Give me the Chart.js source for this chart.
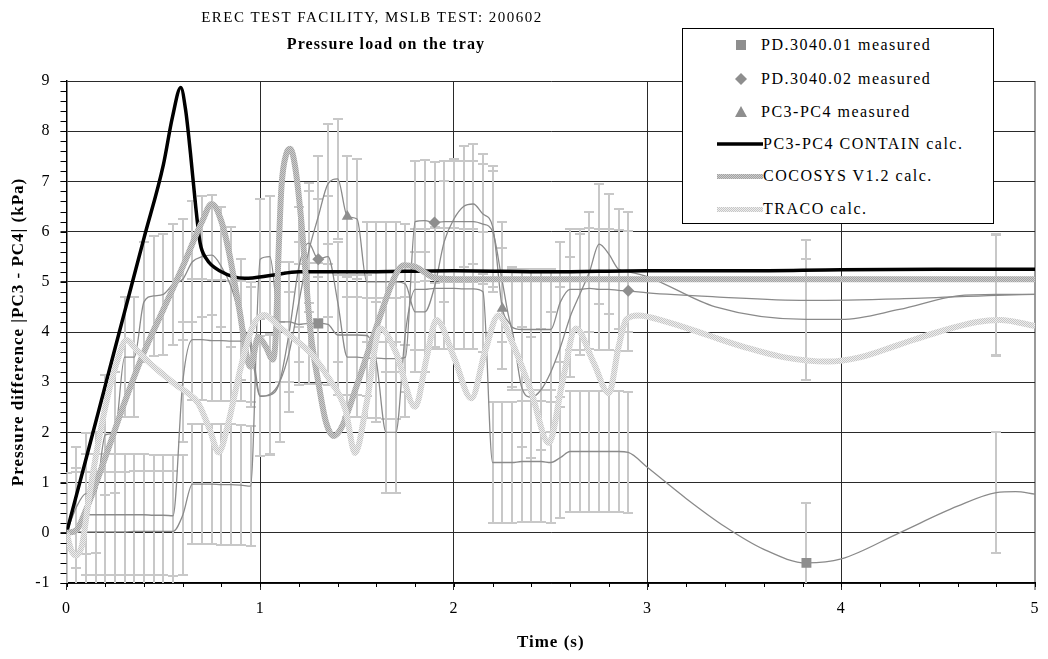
<!DOCTYPE html>
<html>
<head>
<meta charset="utf-8">
<script src="https://cdn.jsdelivr.net/npm/chart.js@4.4.1/dist/chart.umd.min.js"></script>
<style>
body { margin: 0; background: #fff; font-family: "Liberation Serif", "Times New Roman", serif; color: #000; }
#wrap { position: relative; width: 1048px; height: 659px; overflow: hidden; }
#c { position: absolute; left: 0; top: 0; }
.ttl { position: absolute; width: 500px; text-align: center; font-size: 15px; line-height: 18px; white-space: nowrap; }
#t1 { left: 122px; top: 8px; letter-spacing: 1.5px; }
#t2 { left: 136px; top: 35px; font-size: 16px; font-weight: bold; letter-spacing: 1.1px; }
#legend { position: absolute; left: 682px; top: 28px; width: 310px; height: 194px; border: 1px solid #000; background: #fff; }
.row { position: absolute; left: 0; height: 20px; width: 310px; }
.row svg { position: absolute; top: 0; }
.row span { position: absolute; top: 0; line-height: 20px; font-size: 16px; letter-spacing: 1.5px; white-space: nowrap; }
</style>
</head>
<body>
<div id="wrap">
  <canvas id="c" width="1048" height="659"></canvas>
  <div class="ttl" id="t1">EREC TEST FACILITY, MSLB TEST: 200602</div>
  <div class="ttl" id="t2">Pressure load on the tray</div>
  <div id="legend">
    <div class="row" style="top:6px"><svg width="70" height="20" style="left:20px"><rect x="33" y="5" width="10" height="10" fill="#8e8e8e"/></svg><span style="left:78px">PD.3040.01 measured</span></div>
    <div class="row" style="top:40px"><svg width="70" height="20" style="left:20px"><polygon points="38,4 44,10 38,16 32,10" fill="#8e8e8e"/></svg><span style="left:78px">PD.3040.02 measured</span></div>
    <div class="row" style="top:73px"><svg width="70" height="20" style="left:20px"><polygon points="38,4 44,15 32,15" fill="#8e8e8e"/></svg><span style="left:78px">PC3-PC4 measured</span></div>
    <div class="row" style="top:105px"><svg width="50" height="20" style="left:34px"><line x1="0" y1="10" x2="46" y2="10" stroke="#000" stroke-width="3.5"/></svg><span style="left:80px">PC3-PC4 CONTAIN calc.</span></div>
    <div class="row" style="top:137px"><svg width="50" height="20" style="left:34px"><defs><pattern id="pc" width="2" height="2" patternUnits="userSpaceOnUse"><rect width="2" height="2" fill="#cdcdcd"/><rect width="1" height="1" fill="#a2a2a2"/><rect x="1" y="1" width="1" height="1" fill="#a2a2a2"/></pattern></defs><rect x="0" y="8" width="46" height="5" fill="url(#pc)"/></svg><span style="left:80px">COCOSYS V1.2 calc.</span></div>
    <div class="row" style="top:170px"><svg width="50" height="20" style="left:34px"><defs><pattern id="pt" width="2" height="2" patternUnits="userSpaceOnUse"><rect width="2" height="2" fill="#eeeeee"/><rect width="1" height="1" fill="#c6c6c6"/><rect x="1" y="1" width="1" height="1" fill="#c6c6c6"/></pattern></defs><rect x="0" y="8" width="46" height="5" fill="url(#pt)"/></svg><span style="left:80px">TRACO calc.</span></div>
  </div>
</div>
<script>
// 測定データの時刻（約0.05秒刻み, 0〜2.9 s）
const tGrid = [0,0.05,0.1,0.15,0.2,0.25,0.3,0.35,0.4,0.45,0.5,0.55,0.6,0.65,0.7,0.75,0.8,0.85,0.9,0.95,
  1,1.05,1.1,1.15,1.2,1.25,1.3,1.35,1.4,1.45,1.5,1.55,1.6,1.65,1.7,1.75,1.8,1.85,1.9,1.95,
  2,2.05,2.1,2.15,2.2,2.25,2.3,2.35,2.4,2.45,2.5,2.55,2.6,2.65,2.7,2.75,2.8,2.85,2.9];

// PD.3040.01 measured
const pd01Vals = [0,0.02,0.02,0.02,0.02,0.02,0.02,0.03,0.03,0.03,0.03,0.03,0.35,0.97,0.97,0.97,0.96,0.96,0.95,0.93,
  5.45,5.5,4.2,4.2,4.15,4.17,4.17,4.15,3.94,3.94,3.94,3.93,3.4,2.0,2.0,4.0,4.85,4.85,4.87,4.87,
  4.87,4.86,4.86,4.8,1.4,1.4,1.4,1.42,1.42,1.42,1.4,1.5,1.62,1.62,1.62,1.62,1.62,1.62,1.6];
const pd01TailT = [3.0,3.2,3.4,3.6,3.82,4.0,4.3,4.6,4.8,4.9,5.0];
const pd01TailV = [1.3,0.68,0.12,-0.33,-0.6,-0.52,0.0,0.53,0.8,0.82,0.77];
const pd01Marks = [1.3,3.82];

// PD.3040.02 measured
const pd02Vals = [0,0.1,0.36,0.36,0.36,0.36,0.36,0.36,0.36,0.35,0.35,0.34,3.0,3.85,3.85,3.83,3.83,3.82,3.82,3.8,
  2.72,2.74,3.0,4.0,5.3,5.77,5.45,5.5,4.6,3.5,3.5,3.48,3.48,3.47,3.47,3.5,6.2,6.22,6.18,6.2,
  6.2,6.2,6.2,6.15,6.0,5.0,4.1,4.05,4.05,4.05,4.05,4.6,4.85,4.85,4.87,4.85,4.85,4.83,4.82];
const pd02TailT = [3.0,3.35,3.82,4.3,4.8,5.0];
const pd02TailV = [4.78,4.7,4.63,4.66,4.73,4.75];
const pd02Marks = [1.3,1.9,2.9];

// PC3-PC4 measured
const pc34Vals = [0,0.5,0.78,0.8,1.95,2.0,3.5,3.5,4.6,4.72,4.75,4.95,5.05,5.4,5.5,5.53,5.3,4.9,4.25,3.7,
  2.72,2.76,3.0,3.6,4.6,5.6,6.3,6.95,7.05,6.3,6.25,5.0,5.0,5.0,5.0,4.95,4.4,4.4,4.9,5.8,
  6.25,6.5,6.55,6.35,6.1,4.47,4.05,2.9,2.7,2.85,3.2,3.7,4.3,4.75,5.2,5.75,5.55,5.25,5.2];
const pc34TailT = [3.0,3.35,3.82,4.0,4.3,4.6,4.8,5.0];
const pc34TailV = [5.1,4.5,4.25,4.25,4.45,4.72,4.75,4.75];
const pc34Marks = [1.45,2.25];

// 計算値
const containT = [0,0.1,0.2,0.3,0.4,0.5,0.547,0.59,0.615,0.64,0.667,0.69,0.72,0.8,0.92,1.06,1.2,1.5,2.0,2.5,3.0,3.5,4.0,4.5,5.0];
const containV = [0,1.46,2.93,4.4,5.87,7.33,8.28,8.87,8.42,7.56,6.5,5.77,5.47,5.2,5.07,5.13,5.2,5.2,5.22,5.2,5.22,5.22,5.24,5.25,5.25];

const cocosysT = [0,0.05,0.1,0.2,0.3,0.4,0.5,0.6,0.7,0.75,0.8,0.84,0.89,0.95,0.99,1.03,1.065,1.08,1.094,1.11,
  1.135,1.155,1.18,1.21,1.26,1.3,1.34,1.38,1.42,1.5,1.6,1.7,1.74,1.8,1.9,2.0,2.5,3.0,3.5,4.0,4.5,5.0];
const cocosysV = [0,0.05,0.45,1.5,2.6,3.6,4.45,5.3,6.2,6.55,6.2,5.57,4.5,3.31,3.9,3.7,3.45,3.9,5.5,6.9,
  7.55,7.65,7.3,6.3,4.0,3.0,2.2,1.93,2.1,2.95,4.1,5.15,5.33,5.3,5.08,5.05,5.05,5.05,5.05,5.05,5.05,5.05];

const tracoT = [0,0.025,0.05,0.08,0.12,0.2,0.26,0.31,0.36,0.43,0.5,0.55,0.62,0.68,0.74,0.786,0.83,0.9,0.96,1.02,
  1.1,1.18,1.26,1.35,1.44,1.49,1.55,1.62,1.7,1.8,1.86,1.91,2.0,2.09,2.16,2.23,2.3,2.4,2.49,2.56,
  2.63,2.72,2.8,2.85,2.89,2.95,3.1,3.3,3.5,3.7,3.93,4.1,4.3,4.5,4.7,4.82,5.0];
const tracoV = [0,-0.35,-0.45,-0.25,0.8,2.5,3.4,3.84,3.65,3.38,3.15,2.99,2.8,2.58,2.05,1.6,2.1,3.3,4.1,4.34,
  4.1,3.85,3.58,3.1,2.45,1.59,2.6,4.07,3.6,2.51,3.5,4.24,3.5,2.68,3.6,4.33,3.8,2.8,1.79,3.0,
  4.07,3.4,2.78,3.7,4.25,4.33,4.2,3.95,3.7,3.5,3.41,3.5,3.75,4.0,4.2,4.24,4.12];

// 誤差範囲（±kPa）と、2.9秒以降に誤差棒を付ける時刻
const errHalf = 1.2;
const errLateT = [3.82, 4.8];

const pts = (t, v) => t.map((x, i) => ({ x: x, y: v[i] }));

const canvas = document.getElementById('c');
const ctx = canvas.getContext('2d');

// 網目模様の太線（Excel風のテクスチャ）
function texture(c1, c2) {
  const p = document.createElement('canvas');
  p.width = 2; p.height = 2;
  const g = p.getContext('2d');
  g.fillStyle = c1; g.fillRect(0, 0, 2, 2);
  g.fillStyle = c2; g.fillRect(0, 0, 1, 1); g.fillRect(1, 1, 1, 1);
  return ctx.createPattern(p, 'repeat');
}

function measured(label, vals, tailT, tailV, marks, style, r, order) {
  return {
    label: label,
    data: pts(tGrid.concat(tailT), vals.concat(tailV)),
    showLine: true,
    borderColor: '#8a8a8a',
    borderWidth: 1.3,
    backgroundColor: '#8e8e8e',
    pointBackgroundColor: '#8e8e8e',
    pointBorderColor: '#8e8e8e',
    pointBorderWidth: 0,
    pointStyle: style,
    pointRadius: c => (c.raw && marks.includes(c.raw.x)) ? r : 0,
    pointHoverRadius: 0,
    cubicInterpolationMode: 'monotone',
    order: order,
    isMeasured: true
  };
}

const datasets = [
  measured('PD.3040.01 measured', pd01Vals, pd01TailT, pd01TailV, pd01Marks, 'rect', 7, 6),
  measured('PD.3040.02 measured', pd02Vals, pd02TailT, pd02TailV, pd02Marks, 'rectRot', 6, 5),
  measured('PC3-PC4 measured', pc34Vals, pc34TailT, pc34TailV, pc34Marks, 'triangle', 6.5, 4),
  {
    label: 'PC3-PC4 CONTAIN calc.', data: pts(containT, containV), showLine: true,
    borderColor: '#000', borderWidth: 3.5, pointRadius: 0, cubicInterpolationMode: 'monotone', order: 3
  },
  {
    label: 'COCOSYS V1.2 calc.', data: pts(cocosysT, cocosysV), showLine: true,
    borderColor: texture('#cdcdcd', '#a2a2a2'), borderWidth: 6, pointRadius: 0, cubicInterpolationMode: 'monotone', order: 2
  },
  {
    label: 'TRACO calc.', data: pts(tracoT, tracoV), showLine: true,
    borderColor: texture('#eeeeee', '#c6c6c6'), borderWidth: 6, pointRadius: 0, cubicInterpolationMode: 'monotone', order: 1
  }
];

// 誤差棒
const errorBars = {
  id: 'errorBars',
  beforeDatasetsDraw(chart) {
    const { ctx, chartArea: a, scales: { x, y } } = chart;
    ctx.save();
    ctx.beginPath();
    ctx.rect(a.left, a.top, a.right - a.left, a.bottom - a.top);
    ctx.clip();
    ctx.strokeStyle = '#c8c8c8';
    ctx.lineWidth = 2;
    chart.data.datasets.forEach(ds => {
      if (!ds.isMeasured) return;
      ds.data.forEach(p => {
        if (p.x > 2.91 && !errLateT.includes(p.x)) return;
        const px = Math.round(x.getPixelForValue(p.x));
        const top = Math.round(y.getPixelForValue(p.y + errHalf));
        const bot = Math.round(y.getPixelForValue(p.y - errHalf));
        ctx.beginPath();
        ctx.moveTo(px, top); ctx.lineTo(px, bot);
        ctx.moveTo(px - 5, top); ctx.lineTo(px + 5, top);
        ctx.moveTo(px - 5, bot); ctx.lineTo(px + 5, bot);
        ctx.stroke();
      });
    });
    ctx.restore();
  }
};

// 補助目盛り（0.2刻み）
const minorTicks = {
  id: 'minorTicks',
  beforeDraw(chart) {
    chart.ctx.letterSpacing = '1px';
  },
  afterDraw(chart) {
    const { ctx, chartArea: a, scales: { x, y } } = chart;
    ctx.save();
    ctx.strokeStyle = '#000';
    ctx.lineWidth = 1;
    ctx.beginPath();
    for (let k = 0; k <= 50; k++) {
      const py = Math.round(y.getPixelForValue(-1 + k * 0.2)) + 0.5;
      ctx.moveTo(a.left - 6, py); ctx.lineTo(a.left, py);
    }
    for (let k = 0; k <= 25; k++) {
      const px = Math.round(x.getPixelForValue(k * 0.2)) + 0.5;
      ctx.moveTo(px, a.bottom); ctx.lineTo(px, a.bottom + 4);
    }
    ctx.stroke();
    ctx.restore();
  }
};

const tickFont = { family: '"Liberation Serif", serif', size: 16 };
const titleFont = { family: '"Liberation Serif", serif', size: 17, weight: 'bold' };

new Chart(canvas, {
  type: 'scatter',
  data: { datasets: datasets },
  options: {
    responsive: false,
    animation: false,
    events: [],
    layout: { padding: { left: 0, right: 5, top: 81, bottom: 0 } },
    plugins: {
      legend: { display: false },
      tooltip: { enabled: false }
    },
    scales: {
      x: {
        type: 'linear', min: 0, max: 5,
        ticks: { stepSize: 1, color: '#000', font: tickFont, padding: 9, maxRotation: 0 },
        grid: {
          color: c => c.tick && c.tick.value === 5 ? '#9a9a9a' : '#2a2a2a',
          lineWidth: c => c.tick && c.tick.value === 5 ? 2 : 1,
          tickLength: 7
        },
        border: { color: '#000', width: 1.5 },
        title: { display: true, text: 'Time (s)', color: '#000', font: titleFont, padding: { top: 0, bottom: 6 } },
        afterFit: s => { s.height = 76; }
      },
      y: {
        min: -1, max: 9,
        ticks: { stepSize: 1, color: '#000', font: tickFont, padding: 10 },
        grid: { color: '#2a2a2a', lineWidth: 1, tickLength: 6 },
        border: { color: '#000', width: 1.5 },
        title: { display: true, text: 'Pressure difference |PC3 - PC4| (kPa)', color: '#000', font: titleFont, padding: { top: 8, bottom: 0 } },
        afterFit: s => { s.width = 66.5; }
      }
    }
  },
  plugins: [errorBars, minorTicks]
});
</script>
</body>
</html>
